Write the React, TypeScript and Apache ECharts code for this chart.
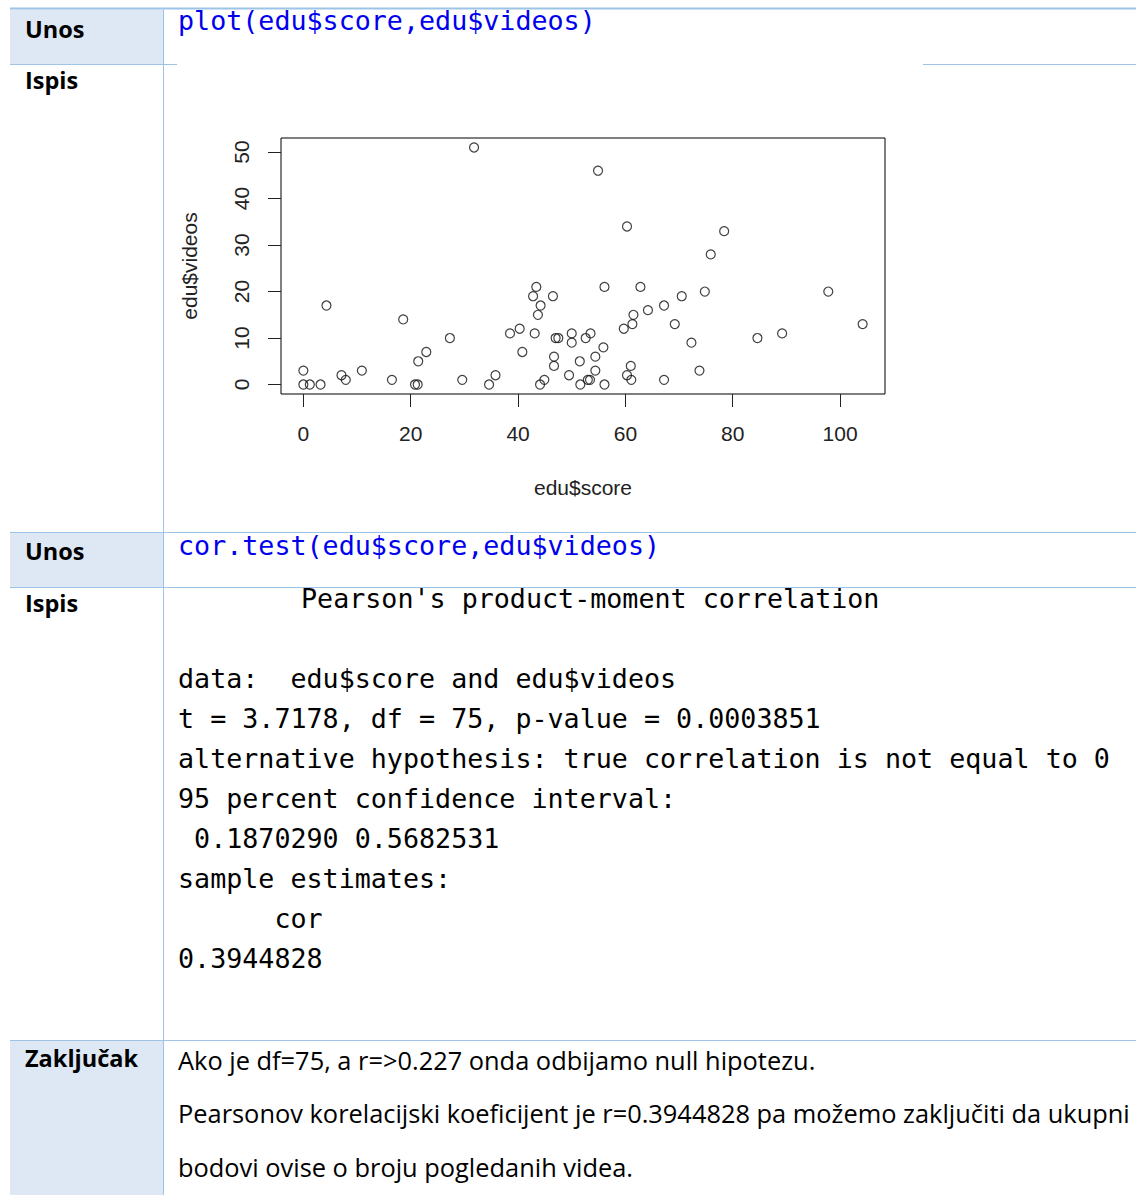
import React, { useEffect, useRef } from "react";
import * as echarts from "echarts";

// Scatter data: edu$score (x) vs edu$videos (y)
const scores = [
  31.8, 4.3, 0, 0, 1.2, 3.2, 7.1, 7.9, 10.9, 16.5,
  18.6, 20.8, 21.3, 21.4, 22.9, 27.3, 29.6, 34.6, 35.8, 38.5,
  40.3, 40.8, 43.1, 42.8, 43.4, 44.2, 43.7, 46.5, 44.1, 44.9,
  47.0, 47.5, 46.7, 46.7, 49.5, 50.0, 50.0, 51.5, 51.6, 52.6,
  53.5, 53.0, 53.4, 54.9, 60.3, 78.4, 75.9, 56.1, 62.8, 74.8,
  97.8, 70.5, 67.2, 64.2, 61.5, 61.3, 59.7, 69.2, 104.2, 89.2,
  84.6, 72.3, 55.9, 54.4, 54.4, 56.1, 61.0, 60.3, 61.1, 67.2,
  73.8,
];
const videos = [
  51, 17, 3, 0, 0, 0, 2, 1, 3, 1,
  14, 0, 0, 5, 7, 10, 1, 0, 2, 11,
  12, 7, 11, 19, 21, 17, 15, 19, 0, 1,
  10, 10, 6, 4, 2, 11, 9, 5, 0, 10,
  11, 1, 1, 46, 34, 33, 28, 21, 21, 20,
  20, 19, 17, 16, 15, 13, 12, 13, 13, 11,
  10, 9, 8, 6, 3, 0, 4, 2, 1, 1,
  3,
];
const xTicks = [0, 20, 40, 60, 80, 100];
const yTicks = [0, 10, 20, 30, 40, 50];
const xName = "edu$score";
const yName = "edu$videos";

const rowLabels = ["Unos", "Ispis", "Unos", "Ispis", "Zaključak"];
const code1 = "plot(edu$score,edu$videos)";
const code2 = "cor.test(edu$score,edu$videos)";
const outputLines = [
  "Pearson's product-moment correlation",
  "",
  "data:  edu$score and edu$videos",
  "t = 3.7178, df = 75, p-value = 0.0003851",
  "alternative hypothesis: true correlation is not equal to 0",
  "95 percent confidence interval:",
  " 0.1870290 0.5682531",
  "sample estimates:",
  "      cor",
  "0.3944828",
];
const conclusionLines = [
  "Ako je df=75, a r=>0.227 onda odbijamo null hipotezu.",
  "Pearsonov korelacijski koeficijent je r=0.3944828 pa možemo zaključiti da ukupni",
  "bodovi ovise o broju pogledanih videa.",
];

const BORDER = "#9DC3E6";
const CELL = "#DEE8F4";
const MONO = "'DejaVu Sans Mono', monospace";
const SANS = "'Open Sans', sans-serif";

function rExtent(arr: number[]) {
  const mn = Math.min(...arr);
  const mx = Math.max(...arr);
  const d = (mx - mn) * 0.04;
  return [mn - d, mx + d];
}

export default function App() {
  const ref = useRef<HTMLDivElement>(null);
  useEffect(() => {
    if (!ref.current) return;
    const chart = echarts.init(ref.current, null, { renderer: "svg" });
    const [xMin, xMax] = rExtent(scores);
    const [yMin, yMax] = rExtent(videos);

    const graphics: any[] = [];
    // cell backgrounds
    graphics.push({ type: "rect", shape: { x: 10, y: 9.5, width: 153, height: 54.5 }, style: { fill: CELL }, z: 0 });
    graphics.push({ type: "rect", shape: { x: 10, y: 532, width: 153, height: 55 }, style: { fill: CELL }, z: 0 });
    graphics.push({ type: "rect", shape: { x: 10, y: 1040, width: 153, height: 155 }, style: { fill: CELL }, z: 0 });
    // borders
    graphics.push({ type: "rect", shape: { x: 10, y: 7.5, width: 1126, height: 2 }, style: { fill: BORDER }, z: 1 });
    const hLine = (x1: number, x2: number, y: number) =>
      graphics.push({ type: "line", shape: { x1, y1: y, x2, y2: y }, style: { stroke: BORDER, lineWidth: 1 }, z: 1 });
    hLine(10, 177, 64.5);
    hLine(923, 1136, 64.5);
    hLine(10, 1136, 532.5);
    hLine(10, 1136, 587.5);
    hLine(10, 1136, 1040.5);
    graphics.push({ type: "line", shape: { x1: 163.5, y1: 9.5, x2: 163.5, y2: 1195 }, style: { stroke: BORDER, lineWidth: 1 }, z: 1 });

    // row labels
    const labelY = [29, 80, 551, 603, 1058];
    rowLabels.forEach((t, i) => {
      graphics.push({
        type: "text", x: 25, y: labelY[i], z: 2,
        style: { text: t, font: `bold 23.5px ${SANS}`, fill: "#000", verticalAlign: "middle", align: "left" },
      });
    });
    // code
    graphics.push({ type: "text", x: 178, y: 20, z: 2, style: { text: code1, font: `26.7px ${MONO}`, fill: "#0000EE", verticalAlign: "middle" } });
    graphics.push({ type: "text", x: 178, y: 545, z: 2, style: { text: code2, font: `26.7px ${MONO}`, fill: "#0000EE", verticalAlign: "middle" } });
    // output
    outputLines.forEach((t, i) => {
      if (!t) return;
      graphics.push({ type: "text", x: i === 0 ? 301 : 178, y: 598 + i * 40, z: 2, style: { text: t, font: `26.7px ${MONO}`, fill: "#000", verticalAlign: "middle" } });
    });
    // conclusion
    const cY = [1060, 1113, 1167];
    conclusionLines.forEach((t, i) => {
      graphics.push({ type: "text", x: 178, y: cY[i], z: 2, style: { text: t, font: `25.4px ${SANS}`, fill: "#000", verticalAlign: "middle" } });
    });

    const axisFont = "'Liberation Sans', Arial, sans-serif";
    chart.setOption({
      animation: false,
      backgroundColor: "#fff",
      graphic: { elements: graphics },
      grid: {
        left: 281, top: 138, width: 604, height: 256,
        show: true, borderColor: "#000", borderWidth: 1, backgroundColor: "transparent",
      },
      xAxis: {
        type: "value", min: xMin, max: xMax,
        name: xName, nameLocation: "middle", nameGap: 83,
        nameTextStyle: { fontFamily: axisFont, fontSize: 21, color: "#222" },
        axisLine: { show: false, onZero: false },
        splitLine: { show: false },
        axisTick: { show: true, length: 13, inside: false, lineStyle: { color: "#222", width: 1 }, customValues: xTicks },
        axisLabel: { customValues: xTicks, fontFamily: axisFont, fontSize: 21, color: "#222", margin: 29 },
      },
      yAxis: {
        type: "value", min: yMin, max: yMax,
        name: yName, nameLocation: "middle", nameGap: 81,
        nameTextStyle: { fontFamily: axisFont, fontSize: 21, color: "#222" },
        axisLine: { show: false, onZero: false },
        splitLine: { show: false },
        axisTick: { show: true, length: 13, inside: false, lineStyle: { color: "#222", width: 1 }, customValues: yTicks },
        axisLabel: { customValues: yTicks, rotate: 90, fontFamily: axisFont, fontSize: 21, color: "#222", margin: 29 },
      },
      series: [
        {
          type: "scatter",
          data: scores.map((s, i) => [s, videos[i]]),
          symbol: "circle",
          symbolSize: 9,
          itemStyle: { color: "transparent", borderColor: "#111", borderWidth: 1.2 },
          z: 5,
        },
      ],
    });
    return () => chart.dispose();
  }, []);
  return (
    <div
      ref={ref}
      style={{ position: "absolute", left: 0, top: 0, width: 1136, height: 1195, background: "#fff" }}
    />
  );
}
